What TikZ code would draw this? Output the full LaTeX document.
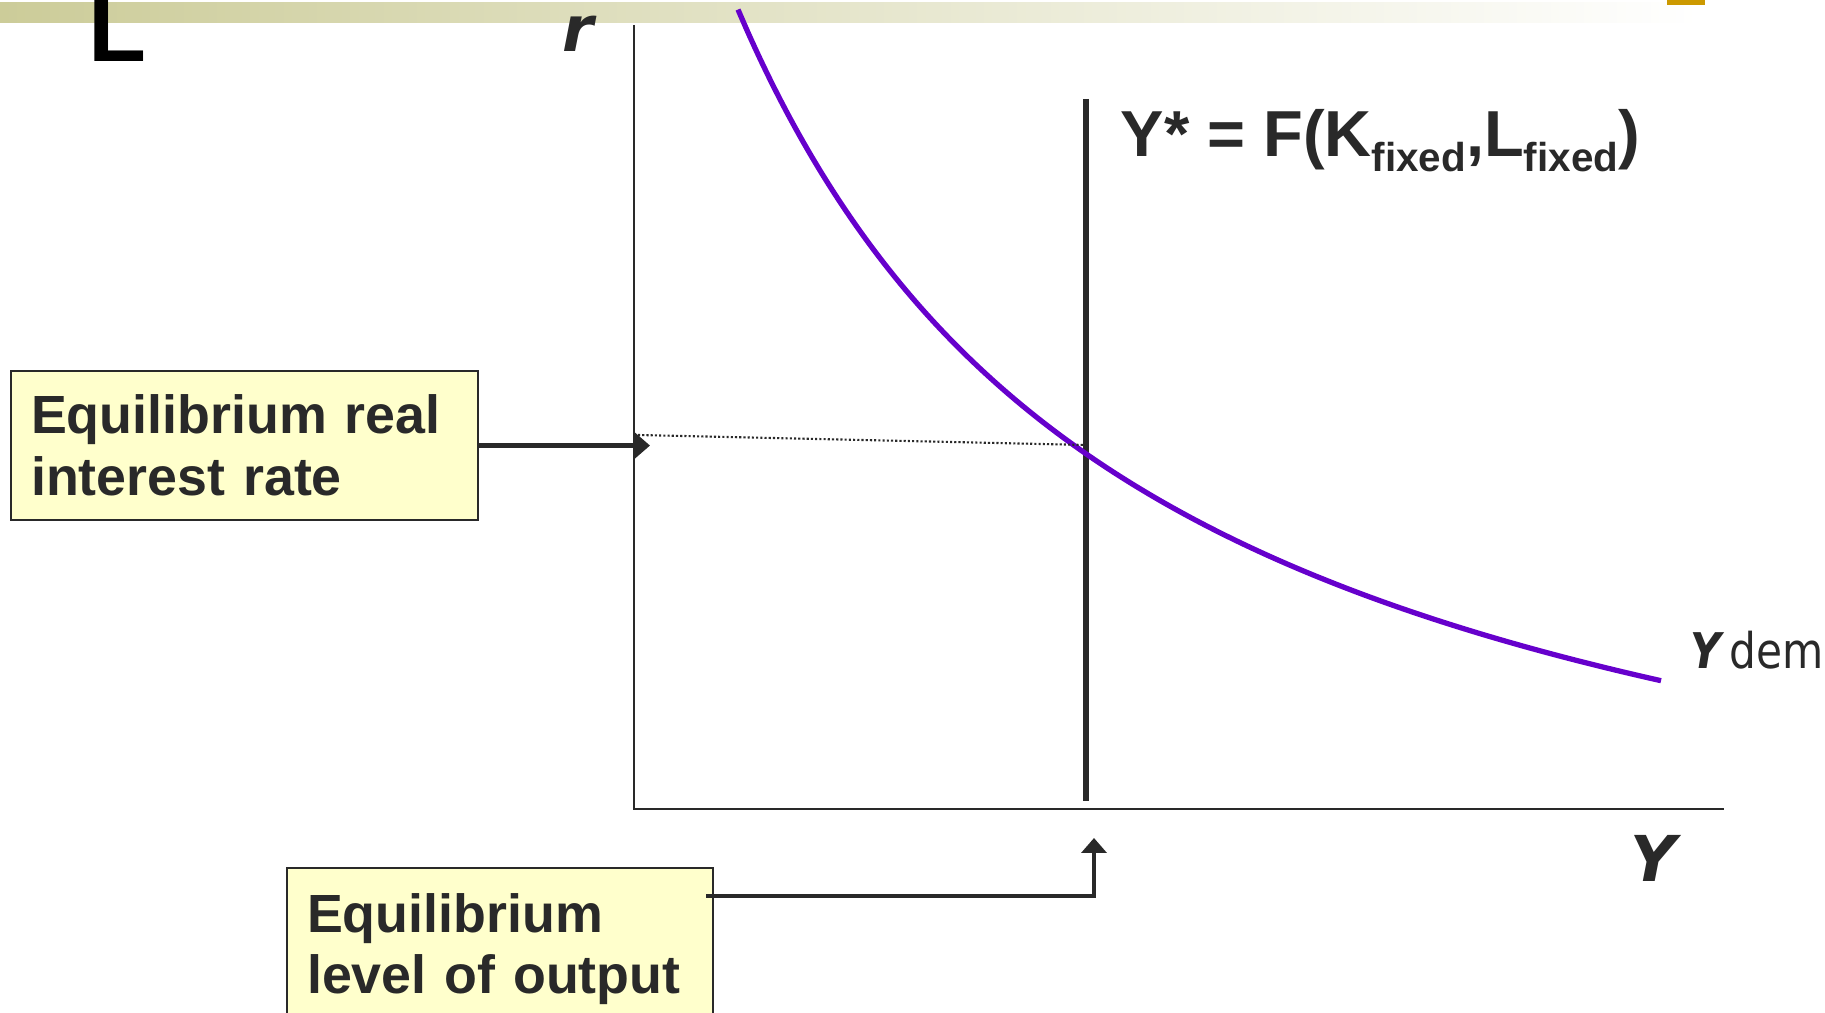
\documentclass[tikz,border=0pt]{standalone}
\usepackage{fontspec}
\newfontfamily\arialfont{Liberation Sans}
\newfontfamily\verdfont{DejaVu Sans}
\newfontfamily\verdnarrow{DejaVu Sans}[FakeStretch=0.86]
\usetikzlibrary{arrows.meta,positioning,calc}
\definecolor{barolive}{RGB}{204,204,153}
\definecolor{tabgold}{RGB}{204,153,0}
\definecolor{boxyellow}{RGB}{255,255,204}
\definecolor{inkgray}{RGB}{41,41,41}
\definecolor{dempurple}{RGB}{102,0,204}
\newcommand{\fixsub}{\raisebox{-1.5mm}{\fontsize{11.5pt}{12pt}\selectfont fixed}}
\tikzset{
  eqbox/.style={draw=inkgray, line width=0.6pt, fill=boxyellow, text=inkgray, align=left, inner xsep=2mm, inner ysep=0pt, font=\arialfont\bfseries\fontsize{15.3pt}{17.6pt}\selectfont},
  eqline/.style={-{Triangle[length=1.5mm,width=2.5mm]}, line width=1.3pt, draw=inkgray},
  axisline/.style={line width=0.5pt, draw=inkgray},
  supline/.style={line width=1.7pt, draw=inkgray},
  demcurve/.style={line width=1.5pt, draw=dempurple},
  guide/.style={dash pattern=on 0.6pt off 0.6pt, line width=0.6pt, draw=inkgray},
  axislabel/.style={text=inkgray, inner sep=0pt, font=\verdfont\bfseries\itshape\fontsize{18pt}{20pt}\selectfont}
}

\begin{document}
\begin{tikzpicture}[x=0.1mm, y=-0.1mm]
  \useasboundingbox (0,0) rectangle (1825,1013);
  \clip (0,0) rectangle (1825,1013);
  \shade[left color=barolive, middle color=barolive!75!white, right color=white] (0,3) rectangle (1700,23);
  \fill[tabgold] (1667,0) rectangle (1705,5);
  \node[anchor=base west, inner sep=0pt, font=\arialfont\bfseries\fontsize{27pt}{30pt}\selectfont] (corner) at (88,62) {L};

  \coordinate (origin) at (634,809);
  \coordinate (rtop) at (634,25);
  \coordinate (yend) at (1724,809);
  \draw[axisline] (rtop) -- (origin) -- (yend);
  \node[axislabel, anchor=base west] (rlabel) at (562,52) {r};
  \node[axislabel, anchor=base west] (ylabel) at (1630,882) {Y};

  \coordinate (ysup) at (1086,99);
  \coordinate (ysupfoot) at (1086,801);
  \draw[supline] (ysup) -- (ysupfoot);
  \node[anchor=base west, inner sep=0pt, text=inkgray, font=\arialfont\bfseries\fontsize{18.5pt}{20pt}\selectfont] (ystar) at (1120,157) {Y* = F(K\fixsub,L\fixsub)};

  \draw[demcurve] plot[domain=738:1661, samples=90, smooth] (\x, {981-4012/((\x-325)/100)});
  \node[anchor=base west, inner sep=0pt, text=inkgray, font=\verdnarrow\fontsize{14pt}{16pt}\selectfont] (ydem) at (1690,669) {{\bfseries\itshape Y}\,dem};

  \coordinate (rstar) at (638,435);
  \coordinate (eqpt) at (1086,445);
  \draw[guide] (rstar) -- (eqpt);

  \node[eqbox, text width=42.7mm, minimum height=14.9mm, anchor=north west] (ratebox) at (10,370) {Equilibrium real\\interest rate};
  \coordinate (rtip) at (650,445);
  \draw[eqline] (ratebox.east) -- (ratebox.east -| rtip);

  \node[eqbox, text width=38.6mm, minimum height=16.2mm, anchor=north west] (outbox) at (286,867) {Equilibrium\\level of output};
  \coordinate (ytip) at (1094,838);
  \draw[eqline] ([xshift=-0.8mm,yshift=-2.9mm]outbox.north east) -| (ytip);
\end{tikzpicture}
\end{document}
